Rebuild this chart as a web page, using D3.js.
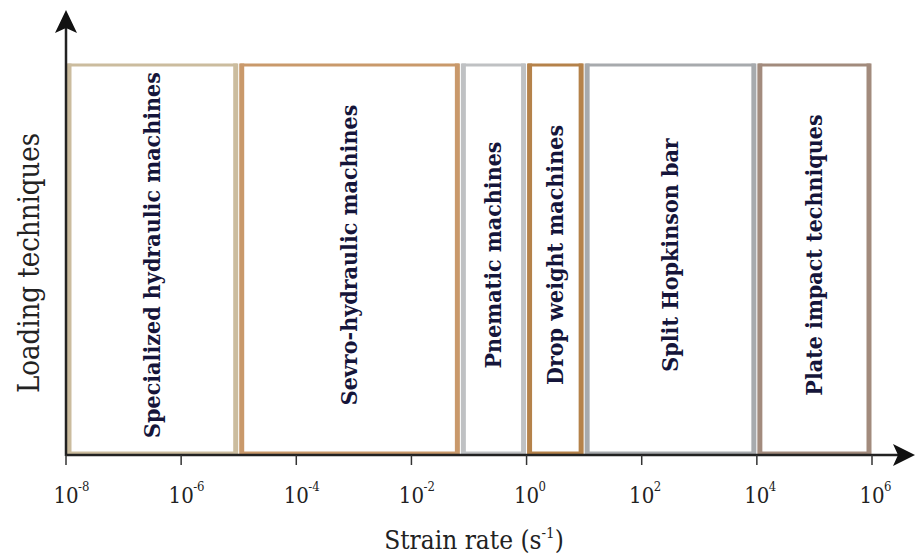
<!DOCTYPE html>
<meta charset="utf-8">
<script src="https://d3js.org/d3.v7.min.js"></script>
<style>
    body { margin: 0; background: #fff; }
    text { font-family: "DejaVu Serif", serif; font-stretch: condensed; }
</style>
<body>
<div id="chart"></div>
<script>

    // loading techniques and the strain-rate range (log10 of s^-1) each one covers
    var techniques = ["Specialized hydraulic machines", "Sevro-hydraulic machines", "Pnematic machines",
        "Drop weight machines", "Split Hopkinson bar", "Plate impact techniques"];
    var rateFrom = [-8, -5, -1.15, 0, 1, 4];
    var rateTo = [-5, -1.15, 0, 1, 4, 6];
    var boxColors = ["#cbbc9e", "#c9996b", "#bfc1c3", "#b5824a", "#a7aaad", "#a28b7d"];

    // tick exponents along the strain rate axis
    var tickExponents = [-8, -6, -4, -2, 0, 2, 4, 6];

    var width = 915, height = 557;
    var margin = { top: 10, right: 2, bottom: 102, left: 66 };
    var axisY = height - margin.bottom;     // baseline of the x axis

    var svg = d3.select("#chart").append("svg")
        .attr("width", width)
        .attr("height", height);

    var x = d3.scaleLinear()
        .domain([-8, 6])
        .range([margin.left, 872]);

    // box top / bottom
    var y = d3.scaleLinear()
        .domain([0, 1])
        .range([axisY - 2, 65]);

    var boxes = techniques.map(function (t, i) {
        return { name: t, from: rateFrom[i], to: rateTo[i], color: boxColors[i] };
    });

    // the boxes: thin top/bottom, thick sides
    var box = svg.append("g")
        .selectAll("g")
        .data(boxes)
        .enter().append("g");

    box.append("rect")
        .attr("x", function (d) { return x(d.from) + 3; })
        .attr("y", y(1))
        .attr("width", function (d) { return x(d.to) - x(d.from) - 6; })
        .attr("height", y(0) - y(1))
        .attr("fill", "none")
        .attr("stroke", function (d) { return d.color; })
        .attr("stroke-width", 3);

    box.selectAll("line")
        .data(function (d) { return [{ v: x(d.from) + 3, c: d.color }, { v: x(d.to) - 3, c: d.color }]; })
        .enter().append("line")
        .attr("x1", function (d) { return d.v; })
        .attr("x2", function (d) { return d.v; })
        .attr("y1", y(1) - 1.5)
        .attr("y2", y(0) + 1.5)
        .attr("stroke", function (d) { return d.c; })
        .attr("stroke-width", 5);

    // labels inside the boxes
    svg.append("g")
        .selectAll("text")
        .data(boxes)
        .enter().append("text")
        .attr("transform", function (d) {
            return "translate(" + ((x(d.from) + x(d.to)) / 2) + "," + (y(0.5) - 4) + ") rotate(-90)";
        })
        .attr("dy", "0.33em")
        .attr("text-anchor", "middle")
        .style("font-size", "23px")
        .style("font-weight", "bold")
        .style("fill", "#15153a")
        .text(function (d) { return d.name; });

    // x axis with arrow
    var axis = svg.append("g");
    axis.append("line")
        .attr("x1", margin.left).attr("x2", 900)
        .attr("y1", axisY).attr("y2", axisY)
        .attr("stroke", "#222").attr("stroke-width", 2.5);
    axis.append("path")
        .attr("d", "M915," + axisY + " L893," + (axisY - 11) + " L898," + axisY + " L893," + (axisY + 11) + "Z")
        .attr("fill", "#111");

    // y axis with arrow
    axis.append("line")
        .attr("x1", margin.left).attr("x2", margin.left)
        .attr("y1", axisY + 1).attr("y2", margin.top + 15)
        .attr("stroke", "#222").attr("stroke-width", 2.5);
    axis.append("path")
        .attr("d", "M" + margin.left + "," + margin.top + " L" + (margin.left - 11) + "," + (margin.top + 23)
            + " L" + margin.left + "," + (margin.top + 18) + " L" + (margin.left + 11) + "," + (margin.top + 23) + "Z")
        .attr("fill", "#111");

    // ticks and 10^n labels
    var ticks = axis.selectAll(".tick")
        .data(tickExponents)
        .enter().append("g")
        .attr("class", "tick")
        .attr("transform", function (d) { return "translate(" + x(d) + "," + axisY + ")"; });

    ticks.append("line")
        .attr("y1", 0).attr("y2", 10)
        .attr("stroke", "#333").attr("stroke-width", 1.5);

    ticks.append("text")
        .attr("y", 48)
        .attr("text-anchor", "middle")
        .style("font-size", "22px")
        .style("fill", "#222")
        .text("10");

    ticks.append("text")
        .attr("x", 12)
        .attr("y", 36)
        .style("font-size", "13px")
        .style("fill", "#222")
        .text(function (d) { return d; });

    // axis titles
    var xTitle = svg.append("text")
        .attr("x", 474)
        .attr("y", 549)
        .attr("text-anchor", "middle")
        .style("font-size", "26px")
        .style("fill", "#222");
    xTitle.append("tspan").text("Strain rate (s");
    xTitle.append("tspan").attr("dy", -11).style("font-size", "15px").text("-1");
    xTitle.append("tspan").attr("dy", 11).text(")");

    svg.append("text")
        .attr("transform", "translate(39," + (y(0.5) + 4) + ") rotate(-90)")
        .attr("text-anchor", "middle")
        .style("font-size", "29px")
        .style("fill", "#222")
        .text("Loading techniques");

</script>
</body>
